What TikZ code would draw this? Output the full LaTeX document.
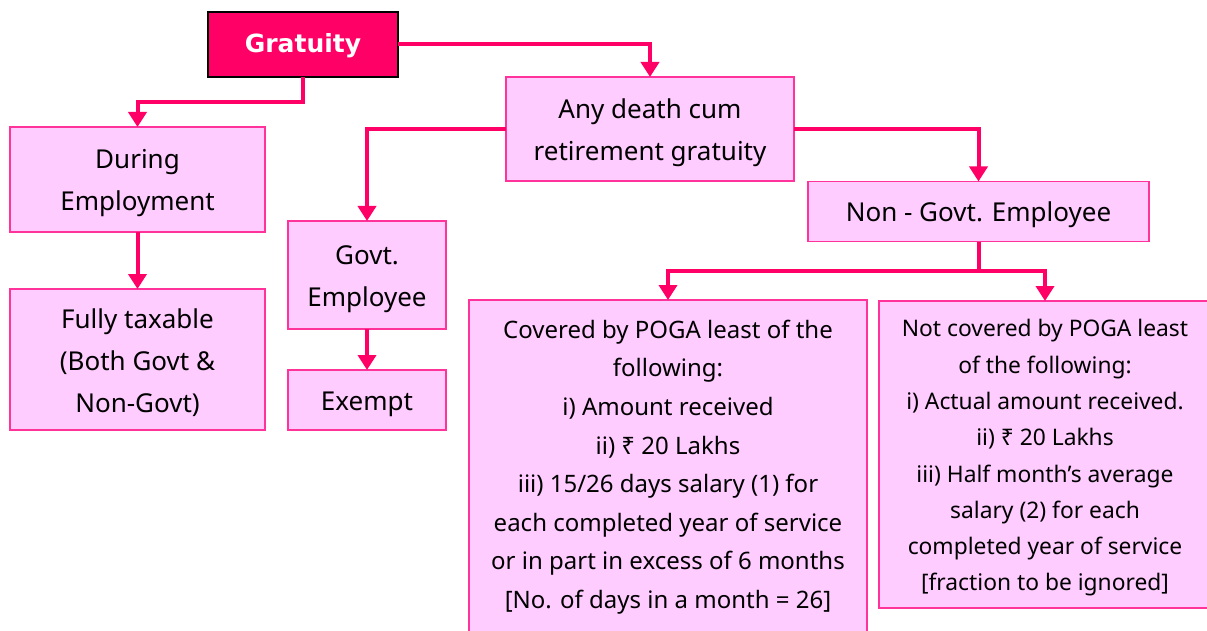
\documentclass[tikz,border=0pt]{standalone}
\usepackage{fontspec}
\setmainfont{Noto Sans}
\newfontfamily\gratfont{DejaVu Sans}[BoldFont={DejaVu Sans Bold}]
\usetikzlibrary{arrows.meta,calc}
\definecolor{boxfill}{RGB}{255,204,255}
\definecolor{boxline}{RGB}{255,51,153}
\definecolor{arrowc}{RGB}{255,0,102}
\newcommand\mystrut{\rule{0pt}{27pt}}
\begin{document}
\begin{tikzpicture}[x=1pt,y=-1pt,
  box/.style={draw=boxline, line width=1.5pt, fill=boxfill, inner sep=0pt, outer sep=0pt,
    align=center, font=\fontsize{26}{42}\selectfont},
  topbox/.style={draw=black, line width=1.5pt, fill=arrowc, inner sep=0pt, outer sep=0pt,
    text=white, font=\fontsize{25}{30}\gratfont\bfseries},
  covtext/.style={align=center, inner sep=0pt, font=\fontsize{24}{38.6}\selectfont},
  notcovtext/.style={align=center, inner sep=0pt, font=\fontsize{22.8}{36.3}\selectfont},
  conn/.style={draw=arrowc, line width=4pt, -{Triangle[width=18pt,length=15pt]}},
  plain/.style={draw=arrowc, line width=4pt}
]
\useasboundingbox (0,0) rectangle (1207,631);
\clip (0,0) rectangle (1207,631);

\node[topbox, minimum width=190pt, minimum height=65pt] (grat) at (303,44.5) {\rule{0pt}{21pt}Gratuity};
\node[box, minimum width=288pt, minimum height=104pt] (death) at (650,129) {\mystrut Any death cum\\retirement gratuity};
\node[box, minimum width=255pt, minimum height=105pt] (dur) at (137.5,179.5) {\mystrut During\\Employment};
\node[box, minimum width=255pt, minimum height=141pt] (full) at (137.5,359.5) {\mystrut Fully taxable\\(Both Govt \&\\Non-Govt)};
\node[box, minimum width=158pt, minimum height=108pt] (govt) at (367,275) {\mystrut Govt.\\Employee};
\node[box, minimum width=158pt, minimum height=60pt] (exempt) at (367,400) {\mystrut Exempt};
\node[box, minimum width=341pt, minimum height=60pt] (nongovt) at (978.5,211.5) {\mystrut Non - Govt. Employee};
\node[box, minimum width=398pt, minimum height=345pt] (cov) at (668,472.5) {};
\node[box, minimum width=332pt, minimum height=307pt] (notcov) at (1045,454.5) {};

\node[covtext] (covt) at (668,467) {Covered by POGA least of the\\following:\\i) Amount received\\ii) ₹ 20 Lakhs\\iii) 15/26 days salary (1) for\\each completed year of service\\or in part in excess of 6 months\\{[No.} of days in a month = 26]};
\node[notcovtext] (notcovt) at (1045,458) {Not covered by POGA least\\of the following:\\i) Actual amount received.\\ii) ₹ 20 Lakhs\\iii) Half month’s average\\salary (2) for each\\completed year of service\\{[fraction} to be ignored]};

\draw[conn] (grat.south) -- ++(0,25) -| (dur.north);
\draw[conn] (grat.east) -| (death.north);
\draw[conn] (death.west) -| (govt.north);
\draw[conn] (death.east) -| (nongovt.north);
\draw[conn] (dur.south) -- (full.north);
\draw[conn] (govt.south) -- (exempt.north);
\coordinate (split) at ($(nongovt.south)+(0,29)$);
\draw[plain] (nongovt.south) -- (split);
\draw[conn] (split) -| (cov.north);
\draw[conn] (split) -| (notcov.north);
\end{tikzpicture}
\end{document}
